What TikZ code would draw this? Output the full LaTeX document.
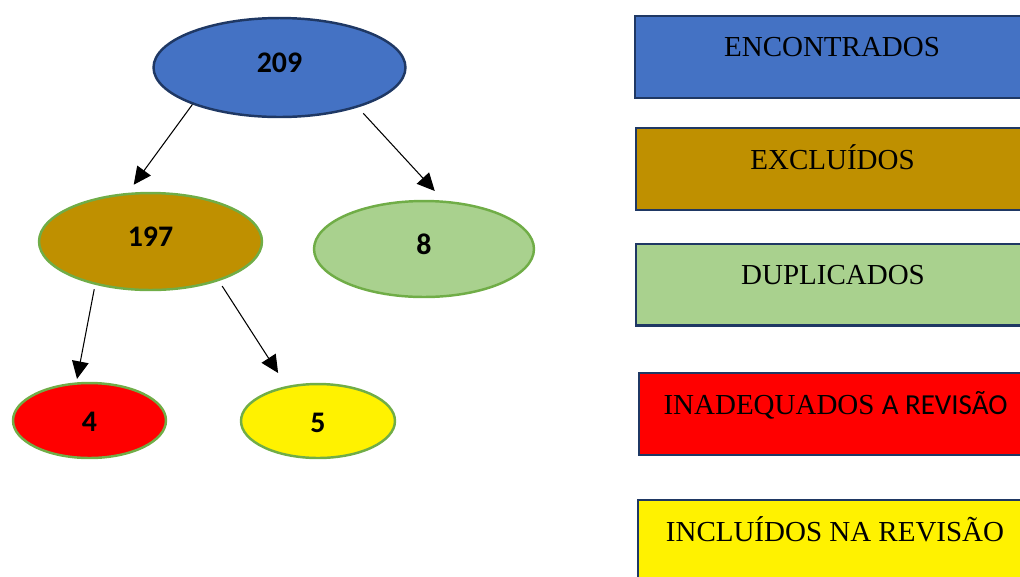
\documentclass[tikz,border=0pt]{standalone}
\usepackage{fontspec}
\setmainfont{Liberation Serif}
\newfontfamily\calib{Carlito}
\usetikzlibrary{shapes.geometric,arrows.meta}
\definecolor{encblue}{HTML}{4472C4}
\definecolor{excgold}{HTML}{BF9000}
\definecolor{dupgreen}{HTML}{A9D18E}
\definecolor{rimgreen}{HTML}{70AD47}
\definecolor{navy}{HTML}{1F3864}
\begin{document}
\begin{tikzpicture}[x=0.02cm, y=-0.02cm,
    bubble/.style={ellipse, draw=rimgreen, line width=1.4pt, inner sep=0pt, text height=10.5pt, text depth=4.5pt, font=\calib\bfseries\fontsize{17}{20}\selectfont},
    low/.style={text height=12.8pt, text depth=0pt},
    legbox/.style={rectangle, draw=navy, line width=1.2pt, anchor=north west, minimum width=7.88cm, minimum height=1.64cm},
    legtext/.style={anchor=base, inner sep=0pt, font=\fontsize{16.5}{20}\selectfont},
    arr/.style={-{Triangle[length=10pt,width=9.5pt]}, line width=0.6pt}]
    \useasboundingbox (0,0) rectangle (1020,576);
    \node[bubble, draw=navy, fill=encblue, minimum width=5.04cm, minimum height=1.98cm] (n209) at (279.5,67.5) {209};
    \node[bubble, fill=excgold, minimum width=4.46cm, minimum height=1.94cm] (n197) at (150.5,241.5) {197};
    \node[bubble, fill=dupgreen, minimum width=4.4cm, minimum height=1.92cm] (n8) at (424,249) {8};
    \node[bubble, low, fill=red, minimum width=3.06cm, minimum height=1.5cm] (n4) at (89.5,420.5) {4};
    \node[bubble, low, fill=yellow, minimum width=3.08cm, minimum height=1.48cm] (n5) at (318,421) {5};
    \draw[arr, shorten >=0.2cm] (n209.-157) -- (n197.115);
    \draw[arr, shorten <=0.16cm, shorten >=0.26cm] (n209.-27.5) -- (n8.68);
    \draw[arr, shorten <=0.09cm, shorten >=0.07cm] (n197.-142) -- (n4.109);
    \draw[arr, shorten <=0.12cm, shorten >=0.31cm] (n197.-30.5) -- (n5.132);
    \foreach \n/\x/\y/\c/\t in {enc/634/15/encblue/ENCONTRADOS, exc/634.5/127/excgold/EXCLUÍDOS,
        dup/635/242.5/dupgreen/DUPLICADOS, inad/637.5/372.3/red/{INADEQUADOS {\calib A REVISÃO}},
        incl/637/499/yellow/INCLUÍDOS NA REVISÃO} {
        \node[legbox, fill=\c] (\n) at (\x,\y) {};
        \node[legtext] (\n-t) at ([yshift=-0.84cm]\n.north) {\t};
    }
\end{tikzpicture}
\end{document}
